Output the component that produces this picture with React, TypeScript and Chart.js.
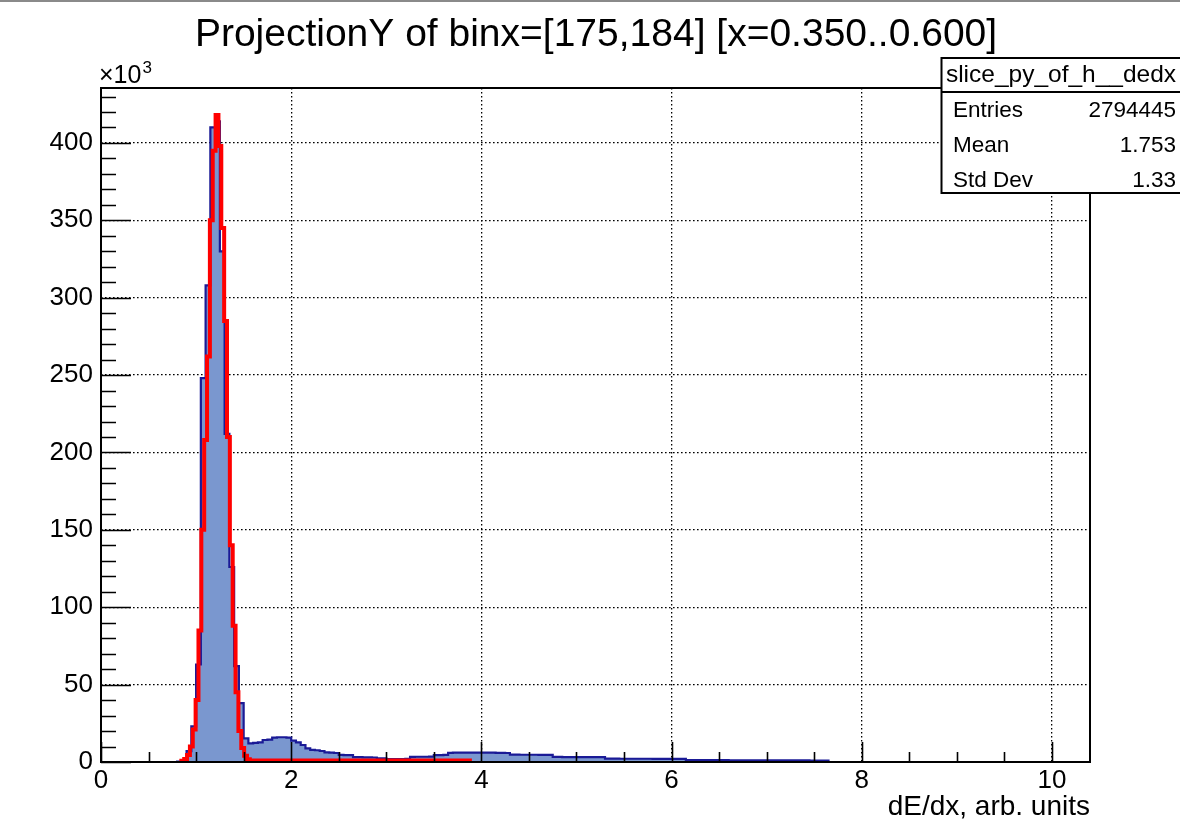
import React, { useEffect, useRef } from "react";
import { Chart, registerables } from "chart.js";

Chart.register(...registerables);

// ---- text ----
const TITLE = "ProjectionY of binx=[175,184] [x=0.350..0.600]";
const X_TITLE = "dE/dx, arb. units";
const Y_EXPONENT = "3";
const STATS_NAME = "slice_py_of_h__dedx";
const STATS_LABELS = ["Entries", "Mean", "Std Dev"];
const STATS_VALUES = ["2794445", "1.753", "1.33"];

// ---- axis ranges (y in units of 10^3 entries) ----
const X_MIN = 0;
const X_MAX = 10.4;
const Y_MIN = 0;
const Y_MAX = 435.5;
const X_MAJOR = 2;
const X_MINOR = 0.5;
const Y_MAJOR = 50;
const Y_MINOR = 10;

// ---- histogram: uniform bins starting at BIN_LOW, counts in thousands ----
const BIN_LOW = 0.8;
const BIN_WIDTH = 0.05;
const COUNTS = [
  0.2, 1.2, 7, 23, 63, 248, 308, 410, 414, 330, // 0.80 - 1.30
  212, 126, 62, 38, 15.3, 12.0, 12.3, 12.7, 14.2, 14.4, // 1.30 - 1.80
  15.8, 16.0, 16.0, 15.8, 13.8, 12.7, 11.0, 8.8, 7.8, 7.6, // 1.80 - 2.30
  7.1, 6.2, 6.0, 5.8, 4.6, 4.5, 4.4, 3.2, 3.1, 3.0, // 2.30 - 2.80
  3.0, 2.9, 2.4, 2.4, 1.9, 1.9, 1.9, 1.9, 2.0, 3.3, // 2.80 - 3.30
  3.4, 3.4, 3.4, 3.5, 4.5, 4.5, 4.6, 5.9, 6.0, 6.0, // 3.30 - 3.80
  6.1, 6.1, 6.1, 6.0, 6.0, 6.0, 6.0, 5.9, 5.9, 5.8, // 3.80 - 4.30
  4.8, 4.8, 4.7, 4.7, 4.7, 4.7, 4.6, 4.6, 4.6, 3.3, // 4.30 - 4.80
  3.3, 3.2, 3.2, 3.2, 3.2, 3.2, 3.1, 3.1, 3.1, 3.1, // 4.80 - 5.30
  2.2, 2.2, 2.2, 2.1, 2.1, 2.1, 2.1, 2.1, 2.1, 2.1, // 5.30 - 5.80
  2.0, 2.0, 2.0, 2.0, 2.0, 2.0, 2.0, 1.3, 1.3, 1.3, // 5.80 - 6.30
  1.2, 1.2, 1.2, 1.2, 1.2, 1.2, 1.1, 1.1, 1.1, 1.1, // 6.30 - 6.80
  1.1, 1.1, 1.1, 1.1, 1.1, 1.0, 1.0, 1.0, 1.0, 1.0, // 6.80 - 7.30
  1.0, 1.0, 1.0, 0.9, 0.9, 0.9, 0.9, // 7.30 - 7.65
];

// ---- fitted curve, sampled points (x, thousands) ----
const FIT_X = [
  0.83, 0.86, 0.89, 0.92, 0.95, 0.98, 1.01, 1.04, 1.07, 1.1, 1.13, 1.16, 1.19,
  1.22, 1.25, 1.28, 1.31, 1.34, 1.37, 1.4, 1.43, 1.46, 1.49, 1.52, 1.55, 1.58,
  3.9,
];
const FIT_Y = [
  0.3, 0.8, 2.0, 4.5, 10, 21, 40, 85, 150, 208, 262, 350, 395, 418, 398, 345,
  285, 210, 140, 88, 45, 20, 9, 4, 1.8, 1.0, 1.0,
];

// ---- style ----
const FONT = "'Liberation Sans', Arial, Helvetica, sans-serif";
const HIST_FILL = "#7a97cf";
const HIST_LINE = "#1a1a96";
const FIT_LINE = "#ff0000";

// Points at the lower bin edges; with "before" stepping each bin is a flat
// segment at its own height, closed down to zero after the last bin.
function histogramPoints() {
  const pts: { x: number; y: number }[] = [{ x: BIN_LOW, y: 0 }];
  COUNTS.forEach((c, i) => pts.push({ x: BIN_LOW + i * BIN_WIDTH, y: c }));
  pts.push({ x: BIN_LOW + COUNTS.length * BIN_WIDTH, y: COUNTS[COUNTS.length - 1] });
  pts.push({ x: BIN_LOW + COUNTS.length * BIN_WIDTH, y: 0 });
  return pts;
}

function fitPoints() {
  return FIT_X.map((x, i) => ({ x, y: FIT_Y[i] }));
}

// Frame, inward ticks, titles and the statistics box drawn on top of the plot
const rootDecor = {
  id: "rootDecor",
  afterDraw(chart: any) {
    const { ctx, chartArea: a } = chart;
    const xs = chart.scales.x;
    const ys = chart.scales.y;
    ctx.save();

    // canvas top border
    ctx.fillStyle = "#8a8a8a";
    ctx.fillRect(0, 0, chart.width, 2);

    // inward tick marks
    ctx.strokeStyle = "#000";
    ctx.lineWidth = 1.6;
    ctx.beginPath();
    const nx = Math.round((X_MAX - X_MIN) / X_MINOR);
    for (let i = 0; i <= nx; i++) {
      const v = X_MIN + i * X_MINOR;
      if (v > X_MAX) break;
      const major = Math.abs(v / X_MAJOR - Math.round(v / X_MAJOR)) < 1e-6;
      const px = Math.round(xs.getPixelForValue(v)) + 0.5;
      ctx.moveTo(px, a.bottom);
      ctx.lineTo(px, a.bottom - (major ? 20 : 10));
    }
    const ny = Math.round((Y_MAX - Y_MIN) / Y_MINOR);
    for (let i = 0; i <= ny; i++) {
      const v = Y_MIN + i * Y_MINOR;
      if (v > Y_MAX) break;
      const major = v % Y_MAJOR === 0;
      const py = Math.round(ys.getPixelForValue(v)) + 0.5;
      ctx.moveTo(a.left, py);
      ctx.lineTo(a.left + (major ? 30 : 15), py);
    }
    ctx.stroke();

    // frame
    ctx.lineWidth = 2;
    ctx.strokeRect(a.left, a.top, a.right - a.left, a.bottom - a.top);

    // title
    ctx.fillStyle = "#000";
    ctx.font = `39px ${FONT}`;
    ctx.textAlign = "center";
    ctx.textBaseline = "alphabetic";
    ctx.fillText(TITLE, 596, 46);

    // exponent marker of the y axis
    ctx.textAlign = "left";
    ctx.font = `25px ${FONT}`;
    ctx.fillText("\u00d710", a.left - 2, 83);
    const w = ctx.measureText("\u00d710").width;
    ctx.font = `17px ${FONT}`;
    ctx.fillText(Y_EXPONENT, a.left - 2 + w + 1, 73);

    // x axis title
    ctx.font = `28px ${FONT}`;
    ctx.textAlign = "right";
    ctx.fillText(X_TITLE, a.right, 815);

    // statistics box
    const bx = 941.5, by = 58, bw = 240, bh = 135, hy = 92;
    ctx.fillStyle = "#fff";
    ctx.fillRect(bx, by, bw, bh);
    ctx.strokeStyle = "#000";
    ctx.lineWidth = 2;
    ctx.strokeRect(bx, by, bw, bh);
    ctx.beginPath();
    ctx.moveTo(bx, hy);
    ctx.lineTo(bx + bw, hy);
    ctx.stroke();
    ctx.fillStyle = "#000";
    ctx.font = `24.5px ${FONT}`;
    ctx.textAlign = "center";
    ctx.fillText(STATS_NAME, 1061, 82);
    ctx.font = `22.5px ${FONT}`;
    STATS_LABELS.forEach((lab, i) => {
      const base = 117 + i * 35;
      ctx.textAlign = "left";
      ctx.fillText(lab, 953, base);
      ctx.textAlign = "right";
      ctx.fillText(STATS_VALUES[i], 1176, base);
    });

    ctx.restore();
  },
};

export default function App() {
  const canvasRef = useRef<HTMLCanvasElement | null>(null);

  useEffect(() => {
    const canvas = canvasRef.current;
    if (!canvas) return;
    const chart = new Chart(canvas, {
      type: "line",
      data: {
        datasets: [
          {
            label: "fit",
            data: fitPoints(),
            borderColor: FIT_LINE,
            borderWidth: 4,
            pointRadius: 0,
            fill: false,
            stepped: "middle",
            order: 0,
          },
          {
            label: "hist",
            data: histogramPoints(),
            borderColor: HIST_LINE,
            backgroundColor: HIST_FILL,
            borderWidth: 2.2,
            pointRadius: 0,
            fill: "origin",
            stepped: "before",
            order: 1,
          },
        ],
      },
      options: {
        animation: false,
        responsive: false,
        devicePixelRatio: 1,
        events: [],
        layout: { padding: { top: 88, right: 90, left: 0, bottom: 0 } },
        plugins: {
          legend: { display: false },
          title: { display: false },
          tooltip: { enabled: false },
        },
        scales: {
          x: {
            type: "linear",
            min: X_MIN,
            max: X_MAX,
            afterFit: (s: any) => {
              s.height = 60;
            },
            grid: { color: "#000", lineWidth: 1.3, drawTicks: false },
            border: { display: false, dash: [1.6, 2.4] },
            ticks: {
              stepSize: X_MAJOR,
              includeBounds: false,
              padding: 3,
              color: "#000",
              font: { family: FONT, size: 26 },
              maxRotation: 0,
              callback: (v: any) => String(v),
            },
          },
          y: {
            type: "linear",
            min: Y_MIN,
            max: Y_MAX,
            afterFit: (s: any) => {
              s.width = 101;
            },
            grid: { color: "#000", lineWidth: 1.3, drawTicks: false },
            border: { display: false, dash: [1.6, 2.4] },
            ticks: {
              stepSize: Y_MAJOR,
              includeBounds: false,
              padding: 8,
              color: "#000",
              font: { family: FONT, size: 26 },
              callback: (v: any) => String(v),
            },
          },
        },
      },
      plugins: [rootDecor],
    });
    return () => chart.destroy();
  }, []);

  return (
    <div style={{ position: "fixed", left: 0, top: 0, width: 1180, height: 822, background: "#fff" }}>
      <canvas ref={canvasRef} width={1180} height={822} style={{ display: "block" }} />
    </div>
  );
}
